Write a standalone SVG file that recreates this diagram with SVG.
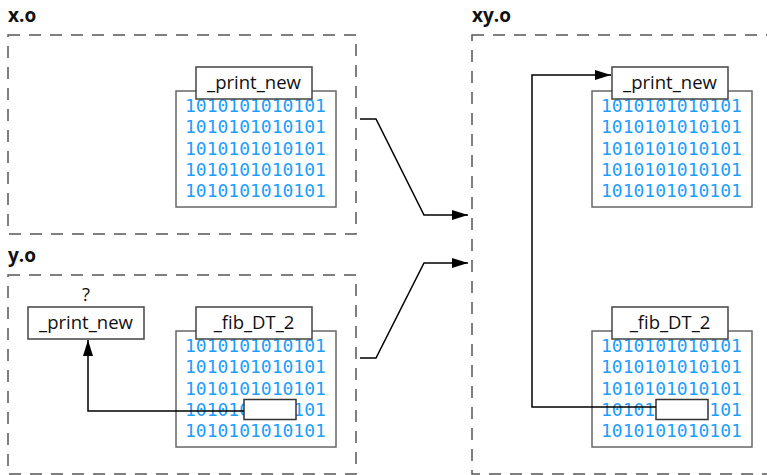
<svg xmlns="http://www.w3.org/2000/svg" width="767" height="475" viewBox="0 0 767 475">
  <style>
    .file { fill: none; stroke: #555; stroke-width: 1.5; stroke-dasharray: 12 9; }
    .title { font-family: "Open Sans", "Noto Sans", sans-serif; font-weight: bold; font-size: 19px; fill: #111; }
    .section { fill: #fff; stroke: #666; stroke-width: 1.5; }
    .sym { fill: #fff; stroke: #444; stroke-width: 1.5; }
    .symtext { font-family: "Open Sans", "Noto Sans", sans-serif; font-size: 18.5px; fill: #111; text-anchor: middle; }
    .bits { font-family: "DejaVu Sans Mono", monospace; font-size: 18px; fill: #1c9eff; }
    .hole { fill: #fff; stroke: #333; stroke-width: 1.5; }
    .wire { fill: none; stroke: #000; stroke-width: 1.5; }
  </style>
  <defs>
    <marker id="arrow" viewBox="0 0 16 10" refX="16" refY="5" markerWidth="16" markerHeight="10" markerUnits="userSpaceOnUse" orient="auto">
      <path d="M0,0 L16,5 L0,10 z" fill="#000"/>
    </marker>
    <g id="bitblock">
      <text class="bits" x="0" y="0">1010101010101</text>
      <text class="bits" x="0" y="21.3">1010101010101</text>
      <text class="bits" x="0" y="42.6">1010101010101</text>
      <text class="bits" x="0" y="63.9">1010101010101</text>
      <text class="bits" x="0" y="85.2">1010101010101</text>
    </g>
  </defs>

  <!-- x.o -->
  <g id="x_o">
    <text class="title" x="8" y="21.5">x.o</text>
    <rect class="file" x="8" y="35" width="348" height="199"/>
    <g id="x_print_new">
      <rect class="section" x="176" y="91" width="160" height="116"/>
      <use href="#bitblock" x="185" y="112"/>
      <rect class="sym" x="196" y="67" width="116" height="32"/>
      <text class="symtext" x="254" y="89">_print_new</text>
    </g>
  </g>

  <!-- y.o -->
  <g id="y_o">
    <text class="title" x="8" y="261.5">y.o</text>
    <rect class="file" x="8" y="275" width="348" height="199"/>
    <g id="y_undef">
      <text class="symtext" x="86" y="301">?</text>
      <rect class="sym" x="28" y="307" width="116" height="32"/>
      <text class="symtext" x="86" y="329">_print_new</text>
    </g>
    <g id="y_fib">
      <rect class="section" x="176" y="331" width="160" height="116"/>
      <use href="#bitblock" x="185" y="352"/>
      <rect class="sym" x="196" y="307" width="116" height="32"/>
      <text class="symtext" x="254" y="329">_fib_DT_2</text>
      <rect class="hole" x="244" y="399.5" width="52" height="20"/>
    </g>
  </g>

  <!-- xy.o -->
  <g id="xy_o">
    <text class="title" x="472" y="21.5">xy.o</text>
    <rect class="file" x="472" y="35" width="320" height="439"/>
    <g id="xy_print_new">
      <rect class="section" x="592" y="91" width="160" height="116"/>
      <use href="#bitblock" x="601" y="112"/>
      <rect class="sym" x="612" y="67" width="116" height="32"/>
      <text class="symtext" x="670" y="89">_print_new</text>
    </g>
    <g id="xy_fib">
      <rect class="section" x="592" y="331" width="160" height="116"/>
      <use href="#bitblock" x="601" y="352"/>
      <rect class="sym" x="612" y="307" width="116" height="32"/>
      <text class="symtext" x="670" y="329">_fib_DT_2</text>
      <rect class="hole" x="656" y="399.5" width="52" height="20"/>
    </g>
  </g>

  <!-- connectors -->
  <g id="connectors">
    <path class="wire" d="M360,119 H376 L424,215 H468" marker-end="url(#arrow)"/>
    <path class="wire" d="M360,358 H376 L424,263 H468" marker-end="url(#arrow)"/>
    <path class="wire" d="M244,411 H88 V340" marker-end="url(#arrow)"/>
    <path class="wire" d="M656,407 H532 V75 H611" marker-end="url(#arrow)"/>
  </g>
</svg>
